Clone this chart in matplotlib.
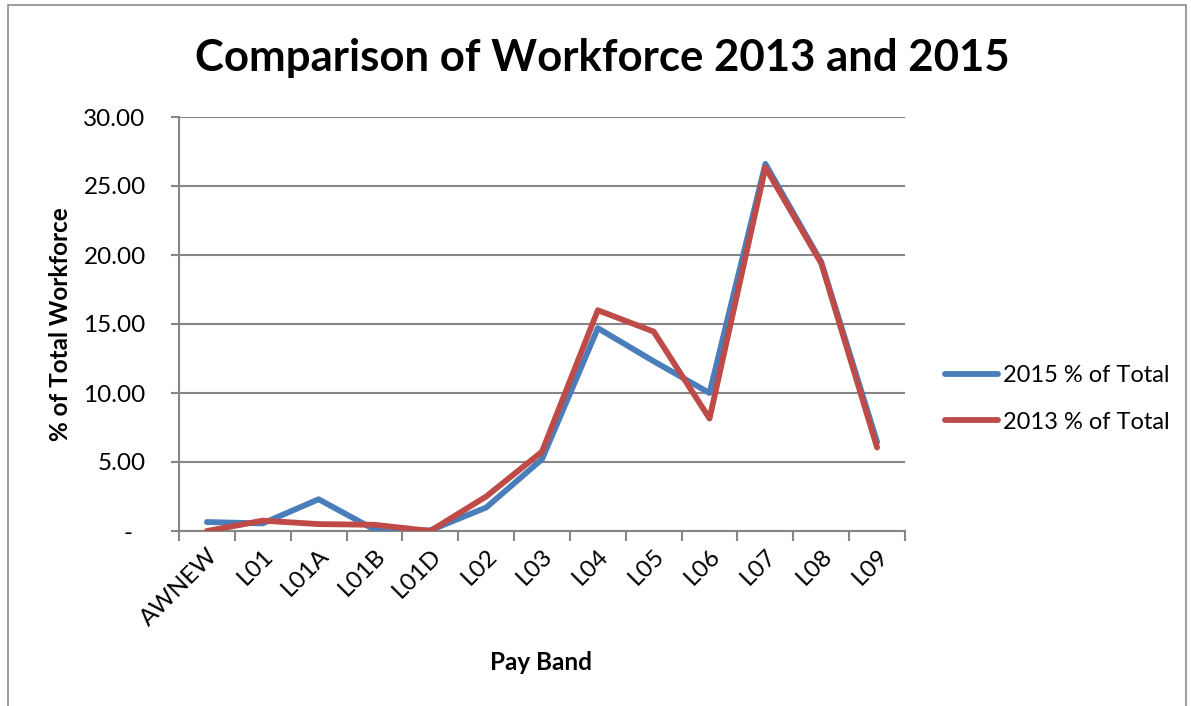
import matplotlib.pyplot as plt
from matplotlib.patches import Rectangle

# Data
bands = ["AWNEW", "L01", "L01A", "L01B", "L01D", "L02", "L03",
         "L04", "L05", "L06", "L07", "L08", "L09"]
pct_2015 = [0.65, 0.55, 2.30, 0.10, 0.05, 1.70, 5.20,
            14.70, 12.30, 10.00, 26.60, 19.50, 6.45]
pct_2013 = [0.00, 0.75, 0.50, 0.45, 0.00, 2.50, 5.75,
            16.00, 14.45, 8.15, 26.35, 19.40, 6.05]

blue = "#4A7EBB"
red = "#BE4B48"
grid_grey = "#868686"

plt.rcParams["font.family"] = ["Lato", "DejaVu Sans"]

fig = plt.figure(figsize=(11.91, 7.06), dpi=100)
ax = fig.add_axes([179 / 1191, 1 - 531 / 706, (905 - 179) / 1191, (531 - 117) / 706])

x = list(range(len(bands)))
ax.plot(x, pct_2015, color=blue, lw=4.2, label="2015 % of Total",
        solid_joinstyle="round", solid_capstyle="round", zorder=3)
ax.plot(x, pct_2013, color=red, lw=4.2, label="2013 % of Total",
        solid_joinstyle="round", solid_capstyle="round", zorder=4)

ax.set_xlim(-0.5, len(bands) - 0.5)
ax.set_ylim(0, 30)

yticks = [0, 5, 10, 15, 20, 25, 30]
ax.set_yticks(yticks)
ax.set_yticklabels(["-  "] + [f"{v:.2f}" for v in yticks[1:]], fontsize=17.5)
ax.yaxis.grid(True, color=grid_grey, lw=1.5)
ax.set_axisbelow(True)

# category boundaries as major ticks, names on minor ticks at centres
ax.set_xticks([i - 0.5 for i in range(len(bands) + 1)])
ax.set_xticklabels([])
ax.set_xticks(x, minor=True)
ax.set_xticklabels(bands, minor=True, rotation=45, ha="right",
                   rotation_mode="anchor", fontsize=17.5)
ax.tick_params(axis="x", which="major", length=7, width=1.5, color=grid_grey, direction="out")
ax.tick_params(axis="x", which="minor", length=0, pad=10)
ax.tick_params(axis="y", length=6, width=1.5, color=grid_grey, pad=18)

for side in ["top", "right"]:
    ax.spines[side].set_visible(False)
for side in ["left", "bottom"]:
    ax.spines[side].set_color(grid_grey)
    ax.spines[side].set_linewidth(1.5)

fig.text(602 / 1191, 1 - 58 / 706, "Comparison of Workforce 2013 and 2015",
         ha="center", va="center", fontsize=31.5, fontweight="bold")
fig.text(60 / 1191, 1 - 324 / 706, "% of Total Workforce", rotation=90,
         ha="center", va="center", fontsize=17.5, fontweight="bold")
fig.text(541 / 1191, 1 - 662 / 706, "Pay Band", ha="center", va="center",
         fontsize=17.5, fontweight="bold")

ax.legend(loc="center left", bbox_to_anchor=(924 / 1191, 1 - 399 / 706),
          bbox_transform=fig.transFigure, frameon=False, fontsize=17,
          handlelength=2.25, handletextpad=0.2, labelspacing=1.07)

# outer chart border
fig.patches.append(Rectangle((8 / 1191, -0.05), (1186 - 8) / 1191, 1.05 - 5 / 706,
                             transform=fig.transFigure, fill=False,
                             edgecolor="#8c8c8c", lw=1.2))

fig.savefig("out.png", dpi=100)
